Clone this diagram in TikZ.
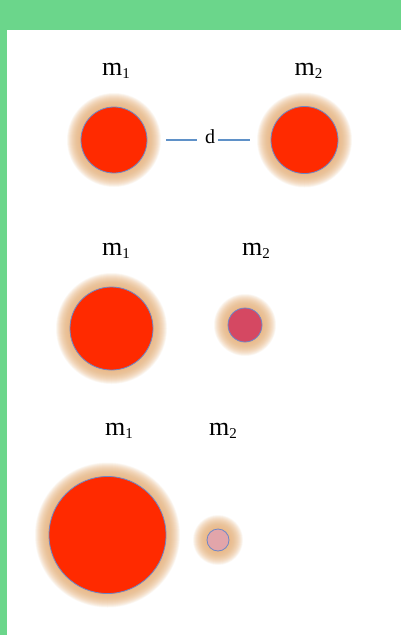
\documentclass[tikz,border=0pt]{standalone}
\usepackage{fontspec}
\setmainfont{Liberation Serif}
\definecolor{bggreen}{RGB}{107,214,139}
\definecolor{ballred}{RGB}{255,42,0}
\definecolor{rimblue}{RGB}{110,135,200}
\definecolor{glowtan}{RGB}{234,180,125}
\definecolor{ballrose}{RGB}{213,72,98}
\definecolor{ballpink}{RGB}{226,165,170}
\definecolor{dblue}{RGB}{95,145,200}
\newcommand{\msub}[1]{m{\fontsize{15}{15}\selectfont\raisebox{-3pt}{#1}}}

\begin{document}
\begin{tikzpicture}[x=1pt,y=-1pt,
  ball/.style={circle,draw=rimblue,line width=0.8pt,inner sep=0pt},
  mlabel/.style={anchor=base,font=\fontsize{26}{30}\selectfont,inner sep=0pt},
  dline/.style={dblue,line width=2pt}]
\useasboundingbox (0,0) rectangle (401,635);
\fill[bggreen] (0,0) rectangle (401,635);
\fill[white] (7,29.5) rectangle (401,635);
% soft halo behind every ball
\foreach \x/\y/\r in {114/140/33, 304.5/140/33.5, 111.5/328.5/41.5, 245/325/17, 107.5/535/58.5, 218/540/11} {
  \foreach \k in {0,0.5,...,14}
    \fill[glowtan,opacity=0.065] (\x,\y) circle [radius=\r+\k];
}
% row 1: equal masses
\node[ball,fill=ballred,minimum size=66] (m1a) at (114,140) {};
\node[ball,fill=ballred,minimum size=67] (m2a) at (304.5,140) {};
\node[mlabel] (l1a) at (116,75) {\msub{1}};
\node[mlabel] (l2a) at (308.5,75) {\msub{2}};
\node[font=\fontsize{20}{24}\selectfont,inner xsep=4pt,inner ysep=1pt] (d) at (210,136.5) {d};
\draw[dline,shorten <=19,shorten >=4] (m1a.east) -- (m1a.east -| d.west);
\draw[dline,shorten <=-1,shorten >=21] (m2a.west -| d.east) -- (m2a.west);
% row 2
\node[ball,fill=ballred,minimum size=83] (m1b) at (111.5,328.5) {};
\node[ball,fill=ballrose,minimum size=34] (m2b) at (245,325) {};
\node[mlabel] (l1b) at (116,255) {\msub{1}};
\node[mlabel] (l2b) at (256,255) {\msub{2}};
% row 3
\node[ball,fill=ballred,minimum size=117] (m1c) at (107.5,535) {};
\node[ball,fill=ballpink,minimum size=22] (m2c) at (218,540) {};
\node[mlabel] (l1c) at (119,435) {\msub{1}};
\node[mlabel] (l2c) at (223,435) {\msub{2}};
\end{tikzpicture}
\end{document}
